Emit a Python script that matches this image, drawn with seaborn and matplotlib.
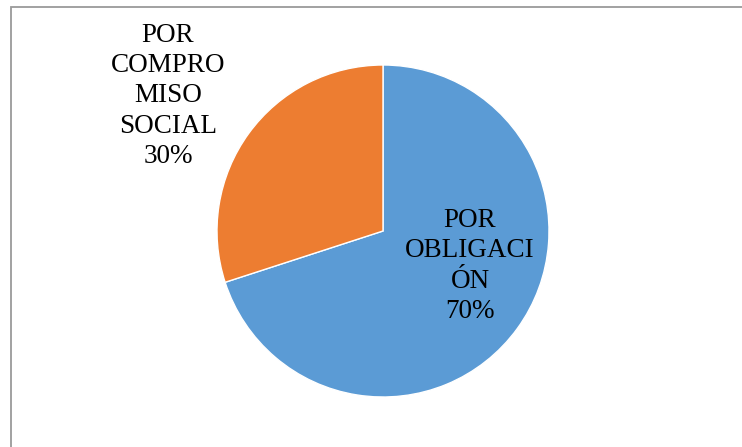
import matplotlib
matplotlib.use("Agg")
import matplotlib.pyplot as plt
import seaborn as sns
from matplotlib.patches import Rectangle

# --- datos ---
categorias = ["POR\nOBLIGACI\nÓN", "POR\nCOMPRO\nMISO\nSOCIAL"]
porcentajes = [70, 30]
colores = ["#5B9BD5", "#ED7D31"]

sns.set_theme(style="white")
plt.rcParams['font.family'] = ['Liberation Serif', 'DejaVu Serif']

W, H = 742, 447
fig = plt.figure(figsize=(W / 100, H / 100), dpi=100)

# marco gris (solo visible arriba y a la izquierda)
fig.patches.append(Rectangle((11 / W, -0.1), 1.2, 1 - 7 / H + 0.1,
                             transform=fig.transFigure, fill=False,
                             edgecolor="#9a9a9a", linewidth=1.3))

# área del pastel: centro (383, 231), radio 166 px
cx, cy, r = 383, 231, 166
ax = fig.add_axes([(cx - r) / W, (H - cy - r) / H, 2 * r / W, 2 * r / H])
ax.pie(porcentajes, colors=colores, startangle=90, counterclock=False,
       wedgeprops={'linewidth': 1, 'edgecolor': 'white'})
ax.set_xlim(-1, 1)
ax.set_ylim(-1, 1)
ax.set_aspect('equal')

# etiquetas de datos
posiciones = [((470 - cx) / r, (cy - 266) / r), ((168 - cx) / r, (cy - 96) / r)]
for cat, val, (x, y) in zip(categorias, porcentajes, posiciones):
    ax.text(x, y, f"{cat}\n{val}%", ha='center', va='center',
            fontsize=19.5, linespacing=1.27, color='black', clip_on=False)

fig.savefig("out.png", dpi=100)
plt.close(fig)
